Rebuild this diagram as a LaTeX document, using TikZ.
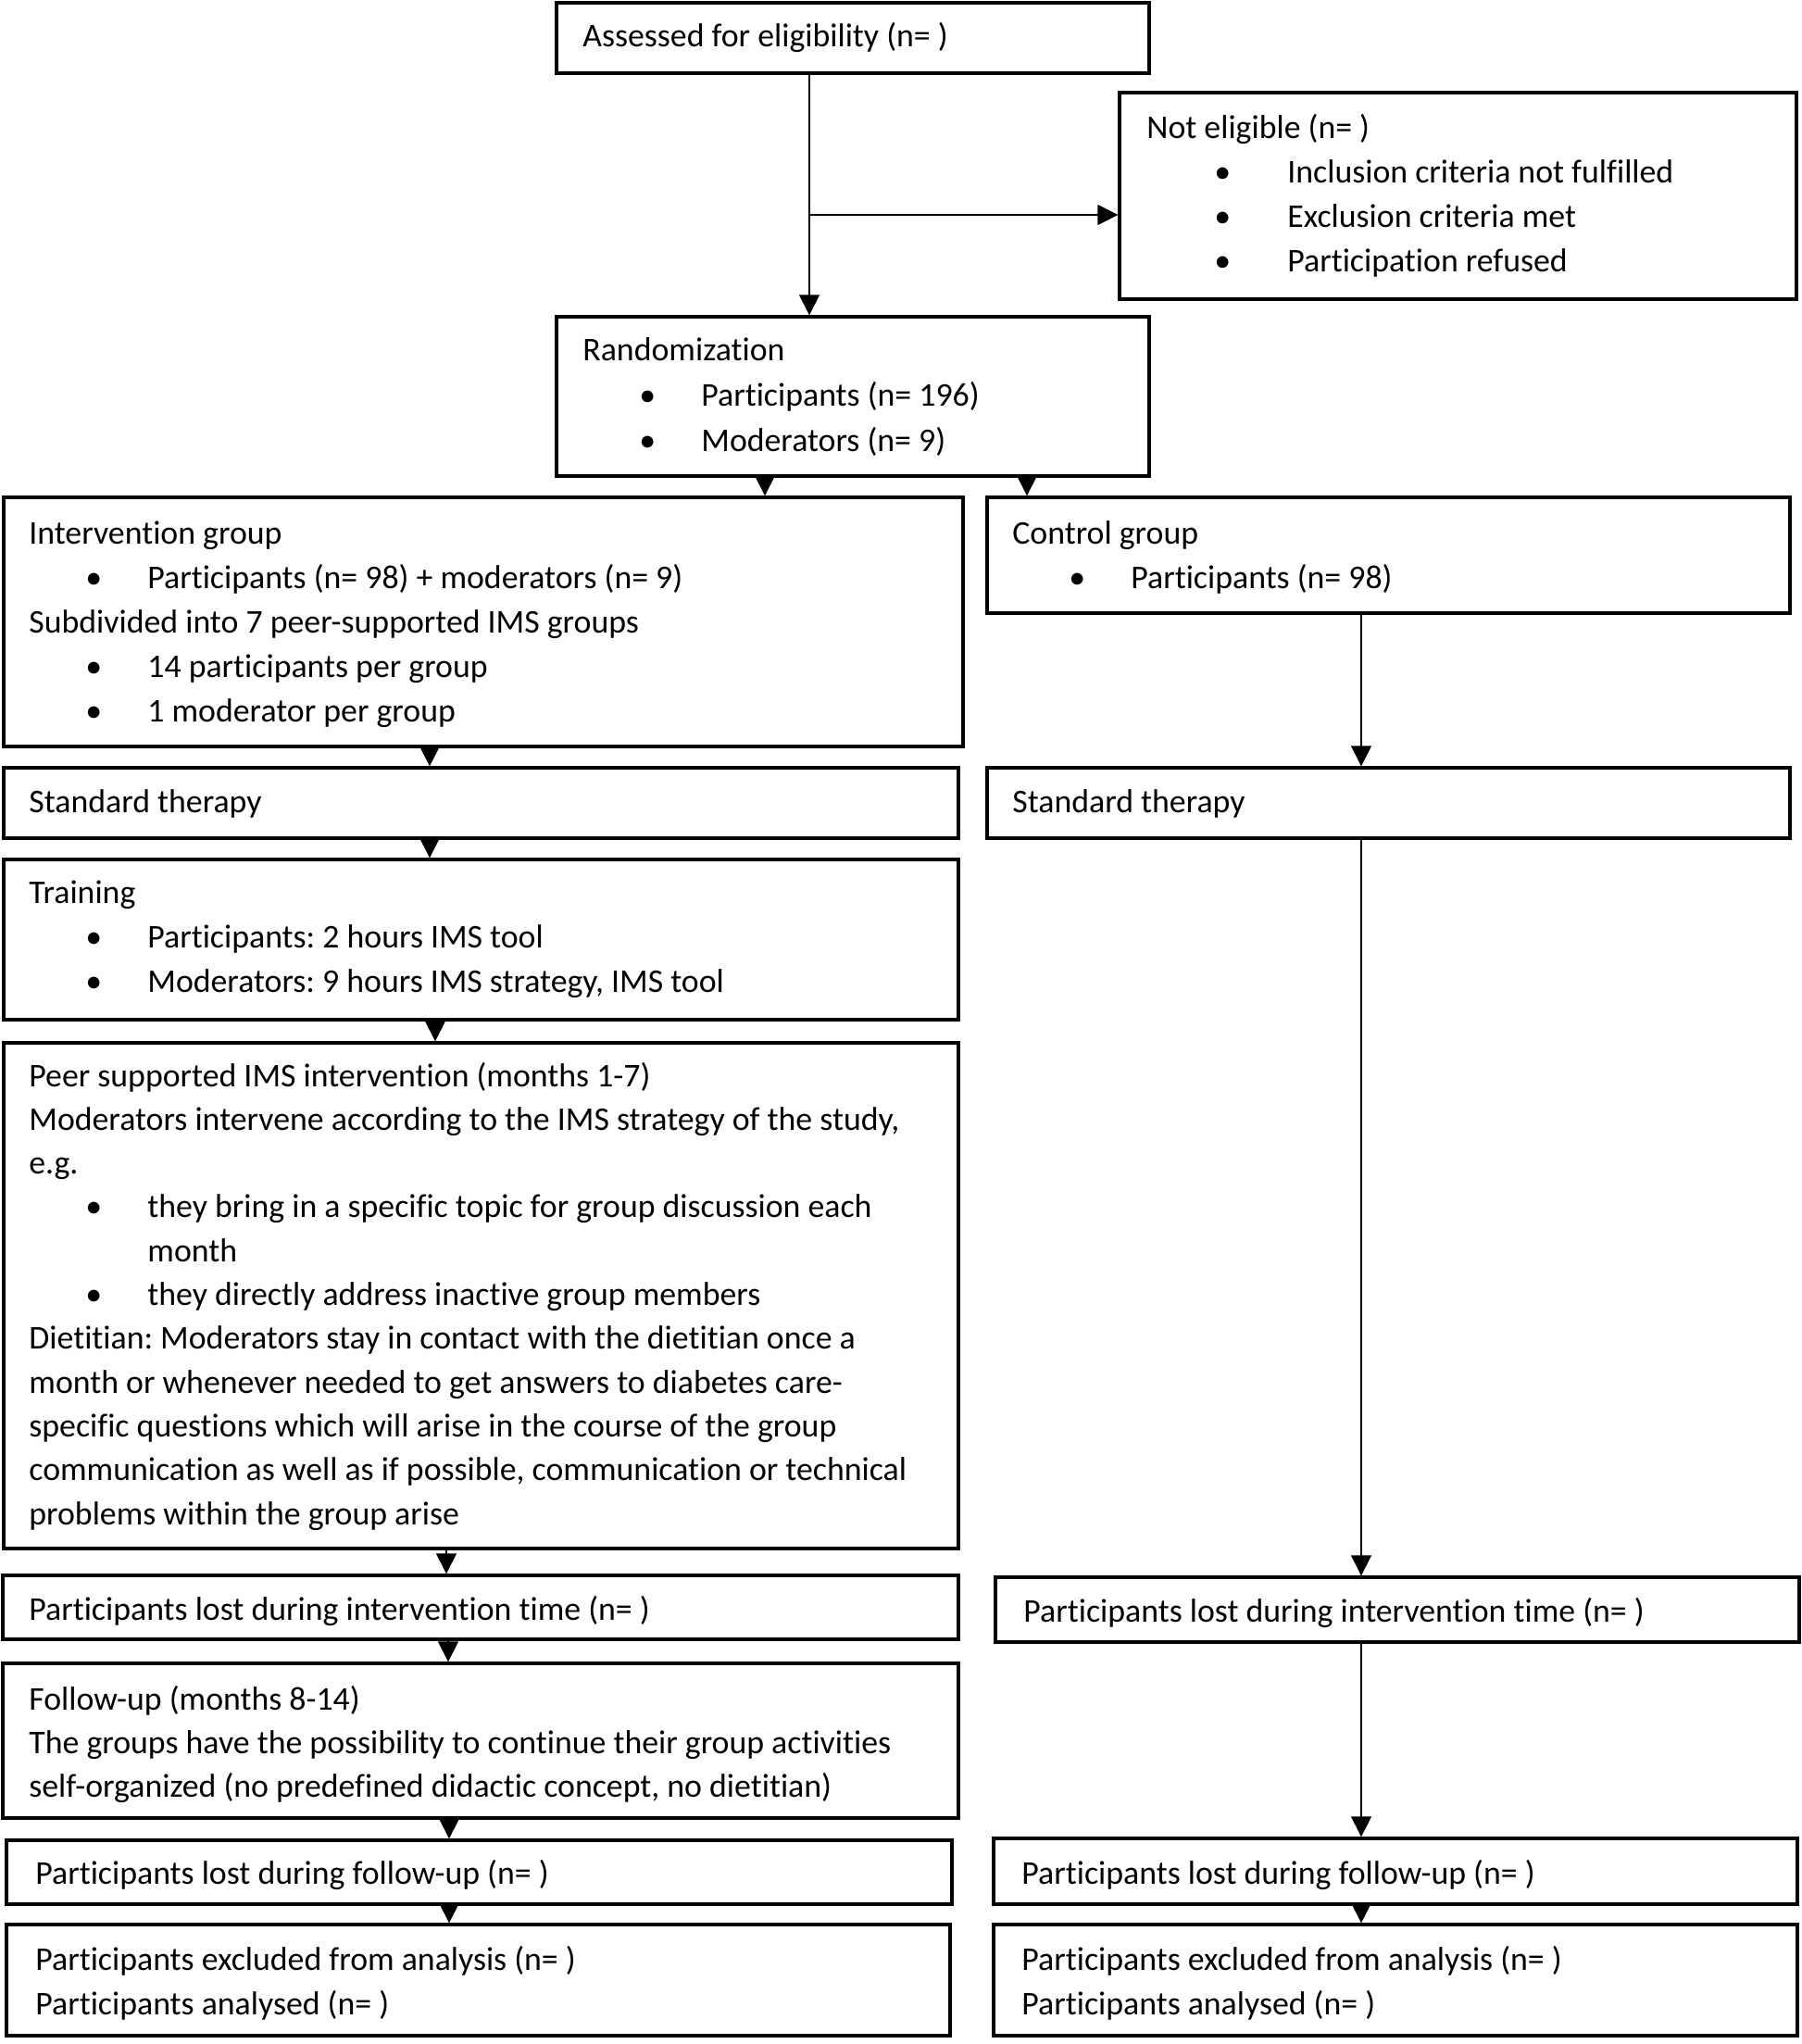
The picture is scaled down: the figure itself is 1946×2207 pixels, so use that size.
\documentclass[tikz,border=0pt]{standalone}
\usepackage{fontspec}
\setmainfont{Carlito}[Ligatures=NoCommon]
\usetikzlibrary{fit,arrows.meta}
\frenchspacing
\newcommand\LL[1]{\hbox{#1}}
\newcommand\BLi[3]{\hbox{\rlap{\kern#1\makebox[0pt]{\textbullet}}\kern#2 #3}}
\newcommand\BL[1]{\BLi{35pt}{64pt}{#1}}
\newcommand\CL[1]{\hbox{\kern64pt #1}}
\newcommand\VT[2]{\vtop{\baselineskip=#1 #2}}
\begin{document}
\begin{tikzpicture}[x=0.5pt,y=-0.5pt,
  font=\fontsize{17.9pt}{24pt}\selectfont\frenchspacing,
  box/.style={draw=black, line width=1.7pt, inner sep=0pt, fill=white},
  txt/.style={anchor=base west, inner sep=0pt},
  conn/.style={line width=0.7pt, -{Triangle[width=11pt,length=11pt]}},
  bar/.style={line width=0.7pt}]
\useasboundingbox[fill=white] (0,0) rectangle (1946,2207);

% boxes
\node[box, fit={(601,3)(1241,79)}] (assess) {};
\node[box, fit={(1209,100)(1940,323)}] (notel) {};
\node[box, fit={(601,342)(1241,514)}] (rand) {};
\node[box, fit={(4,537)(1040,806)}] (interv) {};
\node[box, fit={(1066,537)(1933,662)}] (control) {};
\node[box, fit={(4,829)(1035,905)}] (stdL) {};
\node[box, fit={(1066,829)(1933,905)}] (stdR) {};
\node[box, fit={(4,928)(1035,1101)}] (train) {};
\node[box, fit={(4,1126)(1035,1672)}] (peer) {};
\node[box, fit={(3,1701)(1035,1770)}] (lostIL) {};
\node[box, fit={(1075,1703)(1943,1773)}] (lostIR) {};
\node[box, fit={(3,1796)(1035,1963)}] (follow) {};
\node[box, fit={(7,1987)(1028,2056)}] (lostFL) {};
\node[box, fit={(1073,1985)(1941,2056)}] (lostFR) {};
\node[box, fit={(7,2078)(1026,2198)}] (exclL) {};
\node[box, fit={(1073,2078)(1941,2198)}] (exclR) {};

% texts
\node[txt] (assess-t) at (629,50) {Assessed for eligibility (n= )};
\node[txt] (notel-t) at (1238,149) {\VT{24pt}{\LL{Not eligible (n= )}
  \BLi{41pt}{76pt}{Inclusion criteria not fulfilled}
  \BLi{41pt}{76pt}{Exclusion criteria met}
  \BLi{41pt}{76pt}{Participation refused}}};
\node[txt] (rand-t) at (629,389) {\VT{24.5pt}{\LL{Randomization}
  \BL{Participants (n= 196)}
  \BL{Moderators (n= 9)}}};
\node[txt] (interv-t) at (31,587) {\VT{24.1pt}{\LL{Intervention group}
  \BL{Participants (n= 98) + moderators (n= 9)}
  \LL{Subdivided into 7 peer-supported IMS groups}
  \BL{14 participants per group}
  \BL{1 moderator per group}}};
\node[txt] (control-t) at (1093,587) {\VT{24.1pt}{\LL{Control group}
  \BL{Participants (n= 98)}}};
\node[txt] (stdL-t) at (31,877) {Standard therapy};
\node[txt] (stdR-t) at (1093,877) {Standard therapy};
\node[txt] (train-t) at (31,975) {\VT{24.2pt}{\LL{Training}
  \BL{Participants: 2 hours IMS tool}
  \BL{Moderators: 9 hours IMS strategy, IMS tool}}};
\node[txt] (peer-t) at (31,1173) {\VT{23.65pt}{\LL{Peer supported IMS intervention (months 1-7)}
  \LL{Moderators intervene according to the IMS strategy of the study,}
  \LL{e.g.}
  \BL{they bring in a specific topic for group discussion each}
  \CL{month}
  \BL{they directly address inactive group members}
  \LL{Dietitian: Moderators stay in contact with the dietitian once a}
  \LL{month or whenever needed to get answers to diabetes care-}
  \LL{specific questions which will arise in the course of the group}
  \LL{communication as well as if possible, communication or technical}
  \LL{problems within the group arise}}};
\node[txt] (lostIL-t) at (31,1749) {Participants lost during intervention time (n= )};
\node[txt] (lostIR-t) at (1105,1751) {Participants lost during intervention time (n= )};
\node[txt] (follow-t) at (31,1846) {\VT{23.5pt}{\LL{Follow-up (months 8-14)}
  \LL{The groups have the possibility to continue their group activities}
  \LL{self-organized (no predefined didactic concept, no dietitian)}}};
\node[txt] (lostFL-t) at (38,2034) {Participants lost during follow-up (n= )};
\node[txt] (lostFR-t) at (1103,2034) {Participants lost during follow-up (n= )};
\node[txt] (exclL-t) at (38,2127) {\VT{24pt}{\LL{Participants excluded from analysis (n= )}
  \LL{Participants analysed (n= )}}};
\node[txt] (exclR-t) at (1103,2127) {\VT{24pt}{\LL{Participants excluded from analysis (n= )}
  \LL{Participants analysed (n= )}}};

% connectors
\coordinate (branch) at (874,232);
\draw[conn] (assess.south -| branch) -- (rand.north -| branch);
\draw[conn] (branch) -- (notel.west |- branch);
\draw[conn] (rand.south -| 826,0) -- (interv.north -| 826,0);
\draw[conn] (rand.south -| 1109,0) -- (control.north -| 1109,0);
\draw[conn] (interv.south -| 464,0) -- (stdL.north -| 464,0);
\draw[conn] (stdL.south -| 464,0) -- (train.north -| 464,0);
\draw[conn] (train.south -| 470,0) -- (peer.north -| 470,0);
\draw[conn] (peer.south -| 482,0) -- (lostIL.north -| 482,0);
\draw[conn] (lostIL.south -| 484,0) -- (follow.north -| 484,0);
\draw[conn] (follow.south -| 485,0) -- (lostFL.north -| 485,0);
\draw[conn] (lostFL.south -| 485,0) -- (exclL.north -| 485,0);
\draw[conn] (control.south -| 1470,0) -- (stdR.north -| 1470,0);
\draw[conn] (stdR.south -| 1470,0) -- (lostIR.north -| 1470,0);
\draw[conn] (lostIR.south -| 1470,0) -- (lostFR.north -| 1470,0);
\draw[conn] (lostFR.south -| 1470,0) -- (exclR.north -| 1470,0);
\end{tikzpicture}
\end{document}
